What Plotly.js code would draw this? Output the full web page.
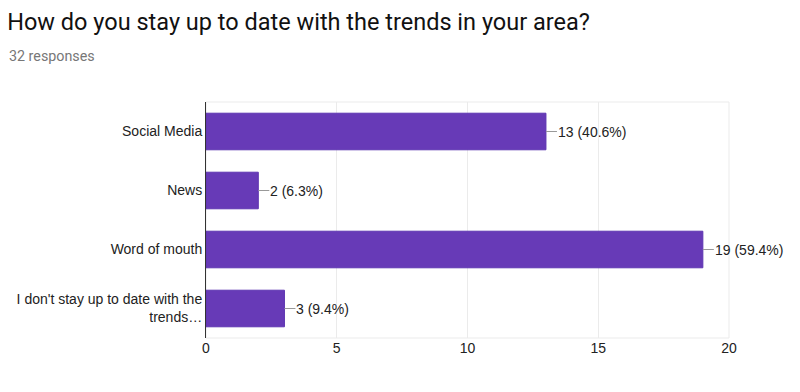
<!DOCTYPE html>
<html><head><meta charset="utf-8">
<script src="https://cdn.plot.ly/plotly-3.0.1.min.js"></script>
<style>body{margin:0;background:#fff}#c{width:800px;height:392px}</style>
</head><body><div id="c"></div>
<script>
const categories = ["Social Media", "News", "Word of mouth", "I don't stay up to date with the<br>trends…"];
const counts = [13, 2, 19, 3];
const percents = ["40.6%", "6.3%", "59.4%", "9.4%"];
const xTicks = [0, 5, 10, 15, 20];

const shapes = [{type:'rect', xref:'x domain', yref:'y domain', x0:0, x1:1, y0:0, y1:1, line:{color:'#ebebeb', width:1}, layer:'below'}];
const annotations = [];
categories.forEach((c, i) => {
  shapes.push({type:'line', xref:'x', yref:'y', xsizemode:'pixel', xanchor:counts[i], x0:0, x1:11, y0:c, y1:c, line:{color:'#999', width:1}});
  annotations.push({x:counts[i], y:c, xref:'x', yref:'y', text:counts[i] + ' (' + percents[i] + ')', showarrow:false, xanchor:'left', xshift:10, font:{family:'Liberation Sans, Arial', size:14, color:'#222'}});
});
annotations.push({xref:'paper', yref:'paper', x:0, xshift:-199, y:1, yshift:46, xanchor:'left', yanchor:'middle', showarrow:false, text:'32 responses', font:{family:'Roboto', size:14.3, color:'#777'}});

Plotly.newPlot('c', [{
  type:'bar', orientation:'h', x:counts, y:categories,
  marker:{color:'#673ab7', line:{color:'#5e35b1', width:1}},
  width:0.62, hoverinfo:'none'
}], {
  width:800, height:392,
  margin:{l:206, r:71, t:102, b:54},
  paper_bgcolor:'#fff', plot_bgcolor:'#fff',
  showlegend:false,
  title:{text:'How do you stay up to date with the trends in your area?', xref:'container', yref:'container', x:0.009, xanchor:'left', y:1-22/392, yanchor:'middle', font:{family:'Roboto', size:23.5, color:'#111'}},
  xaxis:{range:[0,20], tickvals:xTicks, showgrid:true, gridcolor:'#ebebeb', zeroline:false, ticks:'', tickfont:{family:'Liberation Sans, Arial', size:14, color:'#222'}, fixedrange:true},
  yaxis:{type:'category', autorange:'reversed', showline:true, linecolor:'#333', linewidth:1, showgrid:false, ticks:'', ticklen:0, tickfont:{family:'Liberation Sans, Arial', size:14, color:'#222'}, fixedrange:true},
  shapes:shapes, annotations:annotations
}, {displayModeBar:false, staticPlot:true});
</script></body></html>
